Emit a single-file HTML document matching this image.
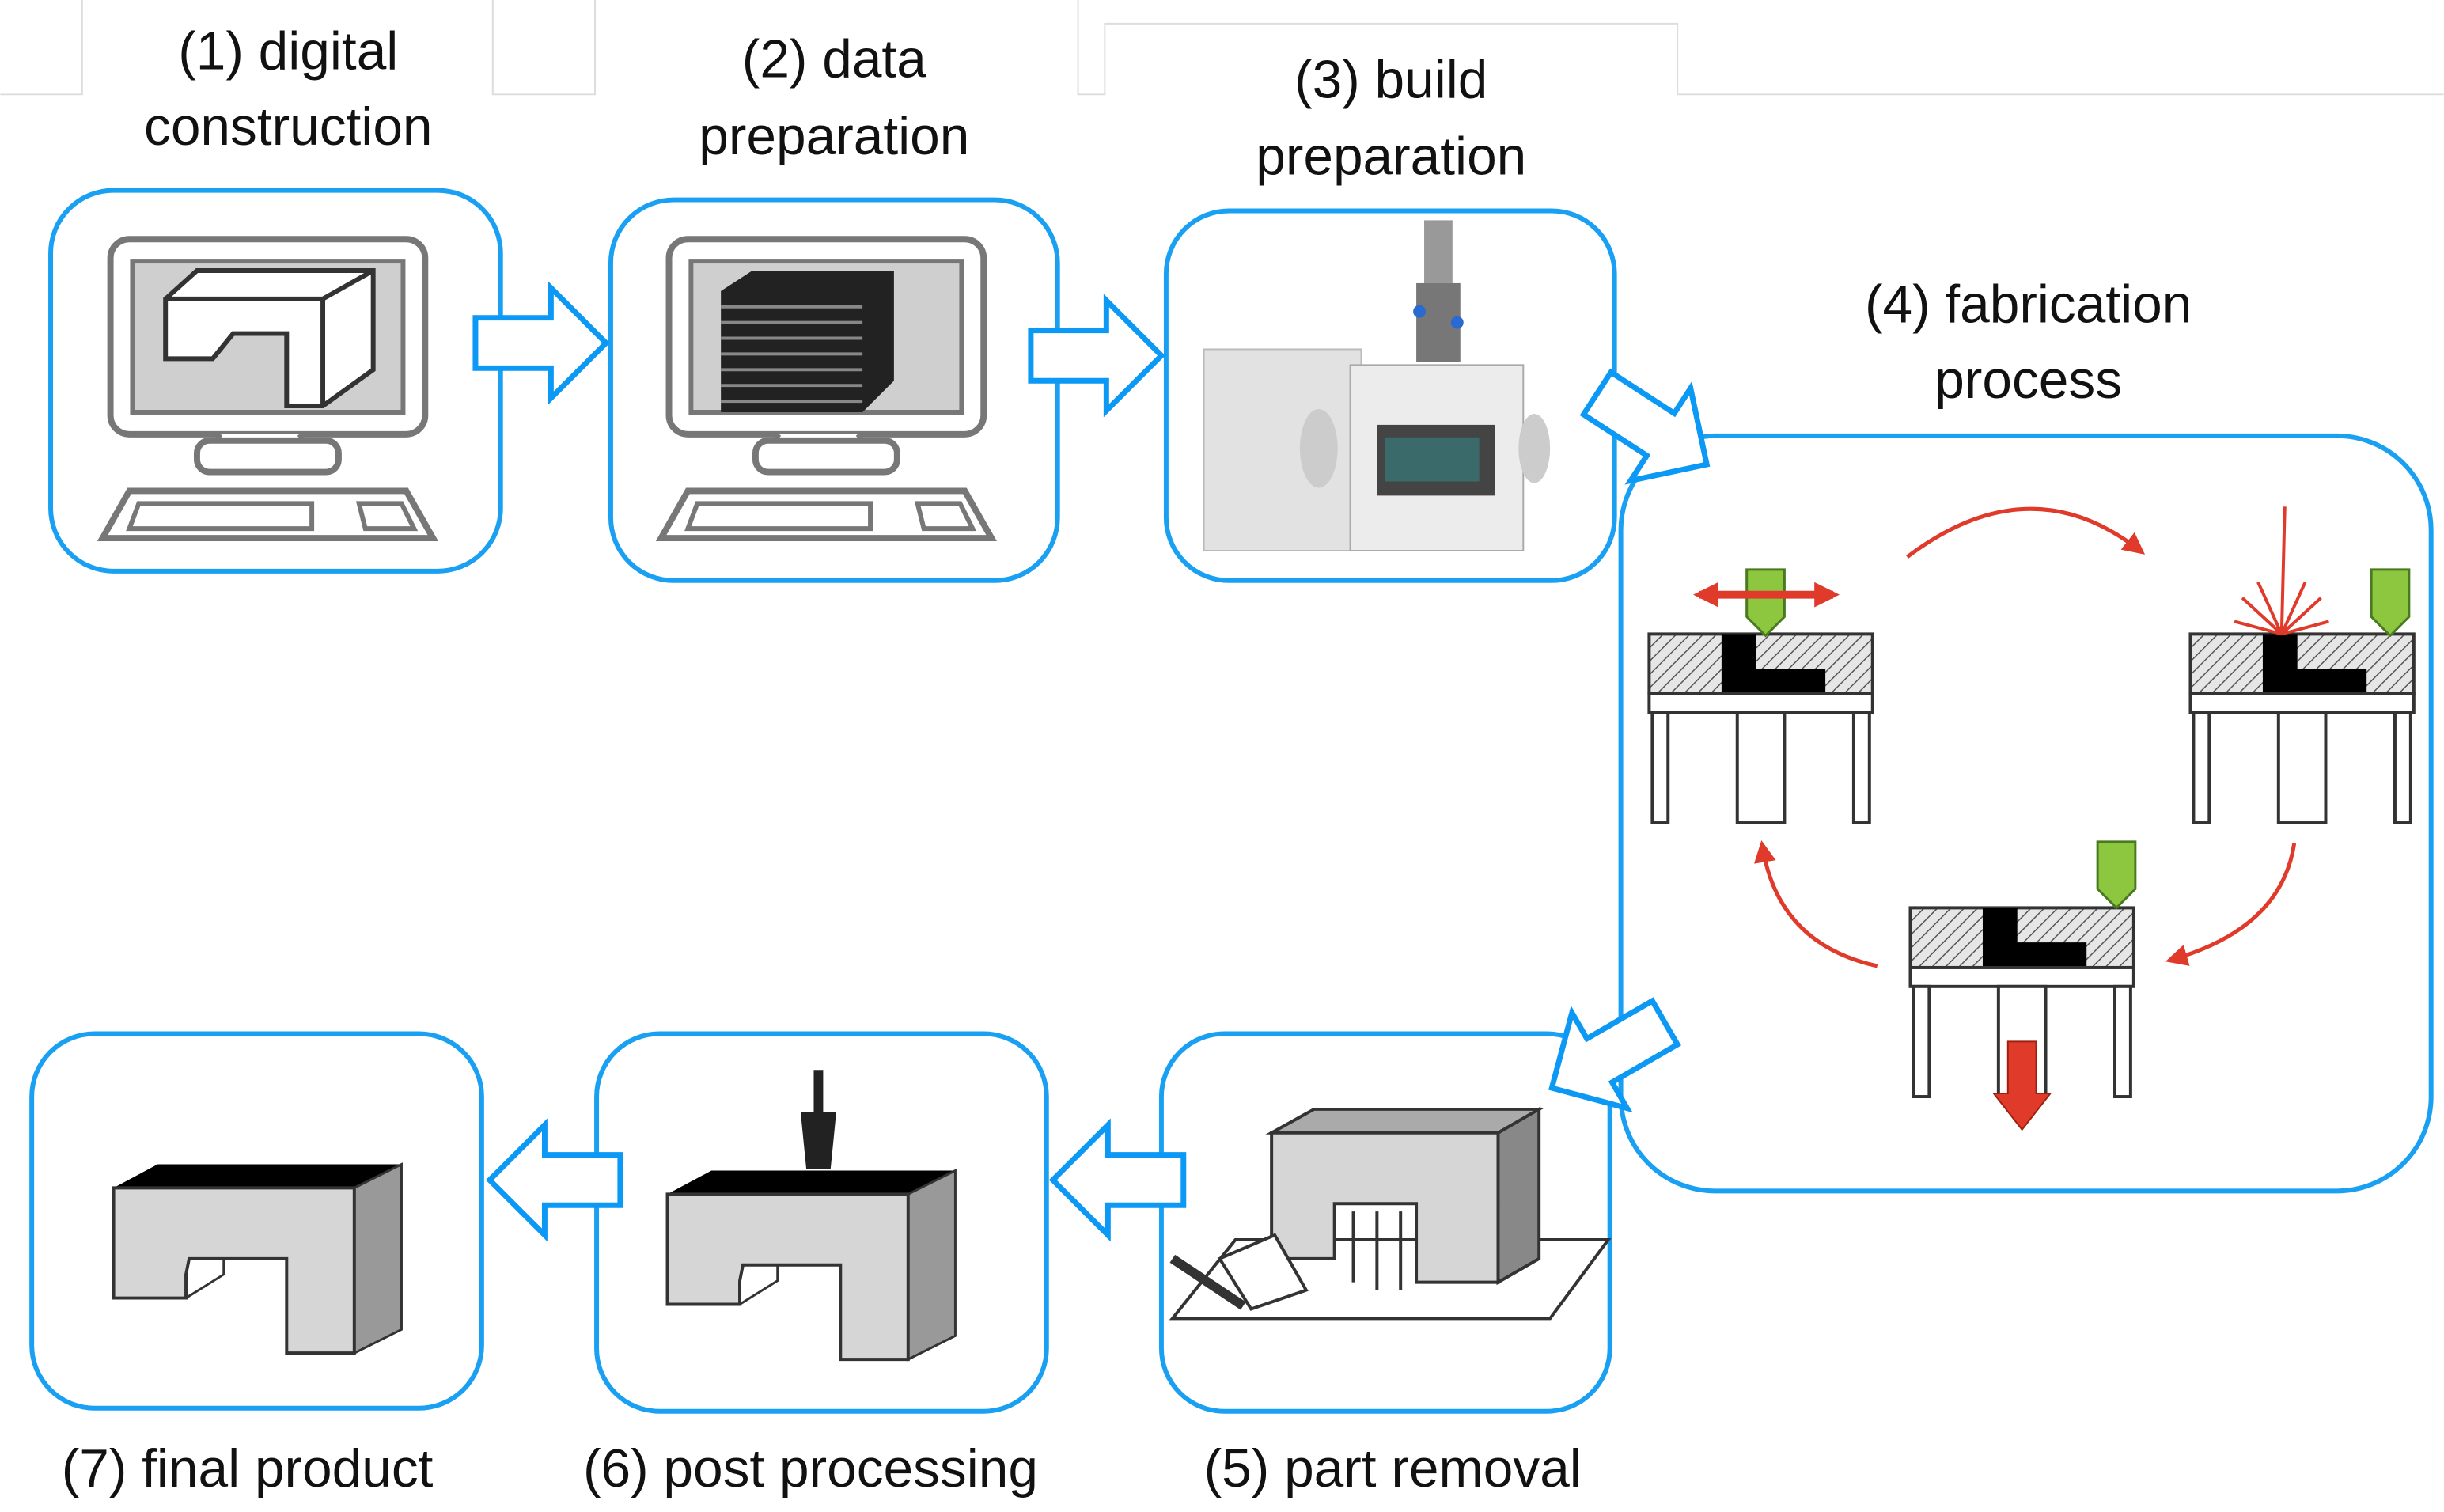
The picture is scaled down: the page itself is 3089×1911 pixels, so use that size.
<!DOCTYPE html>
<html><head><meta charset="utf-8"><style>
html,body{margin:0;padding:0;background:#fff;}
svg{display:block;}
text{font-family:"Liberation Sans","DejaVu Sans",sans-serif;font-size:34px;fill:#111;}
</style></head><body>
<svg width="3089" height="1911" viewBox="0 0 1553 961" xmlns="http://www.w3.org/2000/svg">
<defs>
<pattern id="hatch" width="6" height="6" patternUnits="userSpaceOnUse" patternTransform="rotate(45)">
<rect width="6" height="6" fill="#e6e6e6"/><line x1="0" y1="0" x2="0" y2="6" stroke="#555" stroke-width="1.5"/></pattern>
<g id="pc">
<rect x="0" y="0" width="200" height="124" rx="12" fill="#fff" stroke="#777" stroke-width="4"/>
<rect x="14" y="14" width="172" height="96" fill="#cfcfcf" stroke="#777" stroke-width="3"/>
<path d="M70 124 L60 138 L130 138 L120 124" fill="#fff" stroke="#777" stroke-width="3"/>
<rect x="55" y="128" width="90" height="20" rx="8" fill="#fff" stroke="#777" stroke-width="4"/>
<path d="M12 160 L188 160 L205 190 L-5 190 Z" fill="#fff" stroke="#777" stroke-width="4"/>
<path d="M18 168 L128 168 L128 184 L12 184 Z" fill="#fff" stroke="#777" stroke-width="3"/>
<path d="M158 168 L185 168 L193 184 L162 184 Z" fill="#fff" stroke="#777" stroke-width="3"/>
</g>
<g id="mach">
<rect x="0" y="0" width="142" height="38" fill="url(#hatch)" stroke="#333" stroke-width="2"/>
<path d="M46 0 H68 V22 H112 V38 H46 Z" fill="#000"/>
<rect x="0" y="38" width="142" height="12" fill="#fff" stroke="#333" stroke-width="2"/>
<rect x="2" y="50" width="10" height="70" fill="#fff" stroke="#333" stroke-width="2"/>
<rect x="130" y="50" width="10" height="70" fill="#fff" stroke="#333" stroke-width="2"/>
<rect x="56" y="50" width="30" height="70" fill="#fff" stroke="#333" stroke-width="2"/>
</g>
<g id="block">
<path d="M0 15 L28 0 L183 0 L153 15 Z" fill="#000"/>
<path d="M153 15 L183 0 L183 105 L153 120 Z" fill="#999" stroke="#333" stroke-width="1.5"/>
<path d="M0 15 H153 V120 H110 V60 H48 L46 70 L46 85 H0 Z" fill="#d6d6d6" stroke="#333" stroke-width="2"/>
<path d="M46 85 L70 70 L70 60" fill="none" stroke="#333" stroke-width="1.5"/>
</g>
<marker id="rh" markerUnits="userSpaceOnUse" markerWidth="14" markerHeight="14" refX="10" refY="7" orient="auto"><path d="M0 0 L14 7 L0 14 Z" fill="#e03a2a"/></marker>
<marker id="rh2" markerUnits="userSpaceOnUse" markerWidth="16" markerHeight="16" refX="12" refY="8" orient="auto-start-reverse"><path d="M0 0 L16 8 L0 16 Z" fill="#e03a2a"/></marker>
</defs>

<g stroke="#ddd" stroke-width="1" fill="none">
<path d="M0 60 H52 V0 M313 0 V60 H378 V0 M685 0 V60 H702 V15 H1066 V60 H1553"/>
</g>

<g fill="none" stroke="#1aa0f2" stroke-width="3">
<rect x="32" y="121" width="286" height="242" rx="40"/>
<rect x="388" y="127" width="284" height="242" rx="40"/>
<rect x="741" y="134" width="285" height="235" rx="40"/>
<rect x="1030" y="277" width="515" height="480" rx="60"/>
<rect x="738" y="657" width="285" height="240" rx="40"/>
<rect x="379" y="657" width="286" height="240" rx="40"/>
<rect x="20" y="657" width="286" height="238" rx="40"/>
</g>

<g>
<text x="183" y="44" text-anchor="middle">(1) digital</text>
<text x="183" y="92" text-anchor="middle">construction</text>
<text x="530" y="49" text-anchor="middle">(2) data</text>
<text x="530" y="98" text-anchor="middle">preparation</text>
<text x="884" y="62" text-anchor="middle">(3) build</text>
<text x="884" y="111" text-anchor="middle">preparation</text>
<text x="1289" y="205" text-anchor="middle">(4) fabrication</text>
<text x="1289" y="253" text-anchor="middle">process</text>
<text x="157" y="945" text-anchor="middle">(7) final product</text>
<text x="515" y="945" text-anchor="middle">(6) post processing</text>
<text x="885" y="945" text-anchor="middle">(5) part removal</text>
</g>

<g fill="#fff" stroke="#0c98f5" stroke-width="3.5" stroke-linejoin="miter">
<path d="M302 202 H350 V183 L385 218 L350 253 V234 H302 Z"/>
<path d="M655 210 H703 V191 L738 226 L703 261 V242 H655 Z"/>
<path transform="translate(1015 250) rotate(33)" d="M0 -16 H48 V-35 L83 0 L48 35 V16 H0 Z"/>
<path transform="translate(1058 650) rotate(150)" d="M0 -16 H48 V-35 L83 0 L48 35 V16 H0 Z"/>
<path d="M752 734 H704 V715 L669 750 L704 785 V766 H752 Z"/>
<path d="M394 734 H346 V715 L311 750 L346 785 V766 H394 Z"/>
</g>

<use href="#pc" x="70" y="152"/>
<g fill="#fff" stroke="#333" stroke-width="3">
<path d="M105 190 L125 172 H237 V235 L205 258 H182 V212 H148 L135 228 H105 Z"/>
<path d="M205 190 L237 172 M205 190 V258 M105 190 H205"/>
</g>
<use href="#pc" x="425" y="152"/>
<g>
<path d="M458 185 L478 172 H568 V242 L548 262 H458 Z" fill="#222"/>
<g stroke="#888" stroke-width="2">
<line x1="458" y1="195" x2="548" y2="195"/><line x1="458" y1="205" x2="548" y2="205"/><line x1="458" y1="215" x2="548" y2="215"/><line x1="458" y1="225" x2="548" y2="225"/><line x1="458" y1="235" x2="548" y2="235"/><line x1="458" y1="245" x2="548" y2="245"/><line x1="458" y1="255" x2="548" y2="255"/>
</g>
</g>

<rect x="765" y="222" width="100" height="128" fill="#e2e2e2" stroke="#bbb"/>
<rect x="858" y="232" width="110" height="118" fill="#ececec" stroke="#aaa"/>
<rect x="875" y="270" width="75" height="45" fill="#444"/>
<rect x="880" y="278" width="60" height="28" fill="#3a6a6a"/>
<rect x="905" y="140" width="18" height="40" fill="#999"/>
<rect x="900" y="180" width="28" height="50" fill="#777"/>
<circle cx="902" cy="198" r="4" fill="#2a6ad0"/><circle cx="926" cy="205" r="4" fill="#2a6ad0"/>
<ellipse cx="838" cy="285" rx="12" ry="25" fill="#ccc"/><ellipse cx="975" cy="285" rx="10" ry="22" fill="#ccc"/>

<use href="#mach" x="1048" y="403"/>
<use href="#mach" x="1392" y="403"/>
<use href="#mach" x="1214" y="577"/>
<g fill="#8dc63f" stroke="#4a7a20" stroke-width="1.5">
<path d="M1110 362 H1134 V392 L1122 404 L1110 392 Z"/>
<path d="M1507 362 H1531 V392 L1519 404 L1507 392 Z"/>
<path d="M1333 535 H1357 V565 L1345 577 L1333 565 Z"/>
</g>
<path d="M1080 378 H1165" stroke="#e03a2a" stroke-width="5" marker-start="url(#rh2)" marker-end="url(#rh2)"/>
<g stroke="#e03a2a" stroke-width="2">
<line x1="1452" y1="322" x2="1450" y2="403"/><line x1="1425" y1="380" x2="1450" y2="403"/><line x1="1475" y1="380" x2="1450" y2="403"/><line x1="1420" y1="395" x2="1450" y2="403"/><line x1="1480" y1="395" x2="1450" y2="403"/><line x1="1435" y1="370" x2="1450" y2="403"/><line x1="1465" y1="370" x2="1450" y2="403"/>
</g>
<path d="M1276 662 H1294 V695 H1303 L1285 718 L1267 695 H1276 Z" fill="#e03a2a" stroke="#a02010"/>
<g fill="none" stroke="#e03a2a" stroke-width="2.5" marker-end="url(#rh)">
<path d="M1212 354 Q1290 295 1360 350"/>
<path d="M1458 536 Q1450 590 1380 610"/>
<path d="M1193 614 Q1130 600 1120 538"/>
</g>

<use href="#block" x="72" y="740"/>
<use href="#block" x="424" y="744"/>
<path d="M520 680 V710 M512 710 H528 L525 740 H515 Z" stroke="#222" stroke-width="6" fill="#222"/>
<g stroke="#333" stroke-width="2">
<path d="M745 838 L785 788 H1022 L985 838 Z" fill="#fff"/>
<path d="M808 720 L835 705 H978 L952 720 Z" fill="#aaa"/>
<path d="M952 720 L978 705 V800 L952 815 Z" fill="#888"/>
<path d="M808 720 H952 V815 H900 V765 H848 V800 H808 Z" fill="#d6d6d6"/>
<path d="M860 770 V815 M875 770 V820 M890 770 V820" />
<path d="M745 800 L790 830" stroke-width="6"/>
<path d="M775 800 L810 785 L830 820 L795 832 Z" fill="#fff"/>
</g>
</svg>
</body></html>
